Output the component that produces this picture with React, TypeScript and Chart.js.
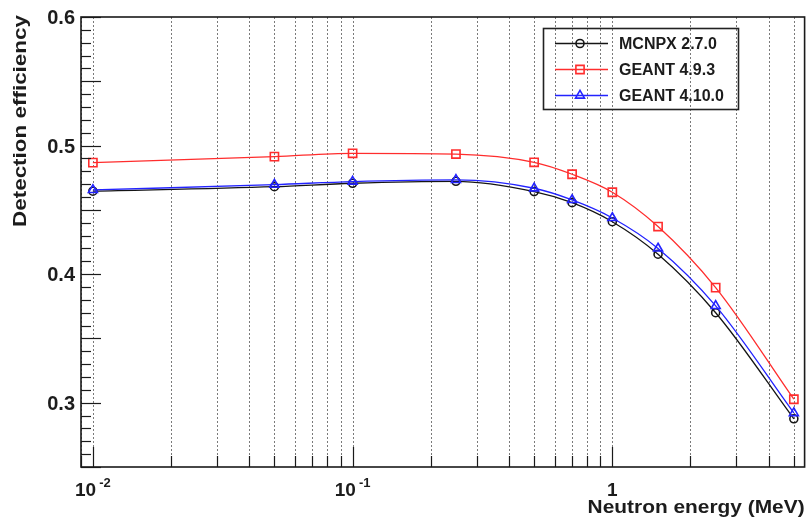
import React, { useEffect, useRef } from "react";
import { Chart, registerables } from "chart.js";

Chart.register(...registerables);

// Neutron energies (MeV) at which the efficiency was evaluated
const energies = [0.01, 0.05, 0.1, 0.25, 0.5, 0.7, 1, 1.5, 2.5, 5];

// Detection efficiency per code
const mcnpx270 = [0.4645, 0.468, 0.4707, 0.4722, 0.4642, 0.4556, 0.4408, 0.4155, 0.37, 0.2875];
const geant493 = [0.4867, 0.4914, 0.494, 0.4934, 0.487, 0.4777, 0.4637, 0.437, 0.3895, 0.3027];
const geant4100 = [0.4655, 0.4696, 0.472, 0.4733, 0.4668, 0.4577, 0.4437, 0.42, 0.3753, 0.292];

const seriesNames = ["MCNPX 2.7.0", "GEANT 4.9.3", "GEANT 4.10.0"];
const seriesColors = ["#151515", "rgb(255,45,45)", "rgb(35,35,255)"];
const seriesMarkers = ["circle", "rect", "triangle"];

// Axis labelling
const yLabelValues = [0.3, 0.4, 0.5, 0.6];
const yLabelTexts = ["0.3", "0.4", "0.5", "0.6"];
const xLabelValues = [0.01, 0.1, 1];
const xLabelBases = ["10", "10", "1"];
const xLabelExponents = ["-2", "-1", ""];
const xTitle = "Neutron energy (MeV)";
const yTitle = "Detection efficiency";

const X_MIN = 0.009;
const X_MAX = 5.5;
const Y_MIN = 0.25;
const Y_MAX = 0.6;

const FONT = "'Liberation Sans', Arial, Helvetica, sans-serif";
const TEXT = "#1c1c1c";

function markerPath(ctx: CanvasRenderingContext2D, style: string, x: number, y: number, r: number) {
  ctx.beginPath();
  if (style === "circle") {
    ctx.arc(x, y, r, 0, Math.PI * 2);
  } else if (style === "rect") {
    const s = r * Math.SQRT1_2;
    ctx.rect(x - s, y - s, 2 * s, 2 * s);
  } else {
    let rad = 0;
    ctx.moveTo(x + Math.sin(rad) * r, y - Math.cos(rad) * r);
    rad += (Math.PI * 2) / 3;
    ctx.lineTo(x + Math.sin(rad) * r, y - Math.cos(rad) * r);
    rad += (Math.PI * 2) / 3;
    ctx.lineTo(x + Math.sin(rad) * r, y - Math.cos(rad) * r);
    ctx.closePath();
  }
}

const markerRadius: Record<string, number> = { circle: 4, rect: 5.8, triangle: 5.2 };

function logGridValues(min: number, max: number) {
  const out: number[] = [];
  for (let e = Math.floor(Math.log10(min)); e <= Math.ceil(Math.log10(max)); e++) {
    for (let m = 1; m <= 9; m++) {
      const v = m * Math.pow(10, e);
      if (v >= min && v <= max) out.push(v);
    }
  }
  return out;
}

const frameAxes = {
  id: "frameAxes",
  beforeDatasetsDraw(chart: any) {
    const { ctx, chartArea: a, scales } = chart;
    const x = scales.x;
    ctx.save();
    ctx.strokeStyle = "#7a7a7a";
    ctx.lineWidth = 1;
    ctx.setLineDash([2, 2]);
    for (const v of logGridValues(X_MIN, X_MAX)) {
      const px = Math.round(x.getPixelForValue(v)) + 0.5;
      ctx.beginPath();
      ctx.moveTo(px, a.top);
      ctx.lineTo(px, a.bottom);
      ctx.stroke();
    }
    ctx.restore();
  },
  afterDatasetsDraw(chart: any) {
    const { ctx, chartArea: a, scales } = chart;
    const x = scales.x;
    const y = scales.y;
    ctx.save();

    // frame
    ctx.strokeStyle = "#1a1a1a";
    ctx.lineWidth = 1.6;
    ctx.strokeRect(a.left, a.top, a.right - a.left, a.bottom - a.top);

    // y ticks, pointing inward
    ctx.lineWidth = 1.2;
    for (let i = Math.round(Y_MIN * 100); i <= Math.round(Y_MAX * 100); i++) {
      const py = Math.round(y.getPixelForValue(i / 100)) + 0.5;
      const len = i % 5 === 0 ? 20 : 10;
      ctx.beginPath();
      ctx.moveTo(a.left, py);
      ctx.lineTo(a.left + len, py);
      ctx.stroke();
    }

    // x ticks, pointing inward
    for (const v of logGridValues(X_MIN, X_MAX)) {
      const px = Math.round(x.getPixelForValue(v)) + 0.5;
      const isDecade = Math.abs(Math.log10(v) - Math.round(Math.log10(v))) < 1e-9;
      const len = isDecade ? 20 : 11;
      ctx.beginPath();
      ctx.moveTo(px, a.bottom);
      ctx.lineTo(px, a.bottom - len);
      ctx.stroke();
    }

    // y labels
    ctx.fillStyle = TEXT;
    ctx.font = `bold 20px ${FONT}`;
    ctx.textAlign = "right";
    ctx.textBaseline = "alphabetic";
    yLabelValues.forEach((v, i) => {
      const py = y.getPixelForValue(v);
      ctx.fillText(yLabelTexts[i], a.left - 6, py + 7);
    });

    // x labels with exponents
    const baseFont = `bold 19px ${FONT}`;
    const expFont = `bold 13px ${FONT}`;
    xLabelValues.forEach((v, i) => {
      const px = x.getPixelForValue(v);
      ctx.font = baseFont;
      const wb = ctx.measureText(xLabelBases[i]).width;
      ctx.font = expFont;
      const we = xLabelExponents[i] ? ctx.measureText(xLabelExponents[i]).width + 3 : 0;
      const left = px - (wb + we) / 2;
      ctx.textAlign = "left";
      ctx.font = baseFont;
      ctx.fillText(xLabelBases[i], left, 496);
      if (xLabelExponents[i]) {
        ctx.font = expFont;
        ctx.fillText(xLabelExponents[i], left + wb + 3, 487);
      }
    });

    // axis titles, stretched to the drawn length
    ctx.font = `bold 18px ${FONT}`;
    const wx = ctx.measureText(xTitle).width;
    ctx.save();
    ctx.translate(a.right, 513);
    ctx.scale(217 / wx, 1);
    ctx.textAlign = "right";
    ctx.fillText(xTitle, 0, 0);
    ctx.restore();

    const wy = ctx.measureText(yTitle).width;
    ctx.save();
    ctx.translate(26, 15);
    ctx.rotate(-Math.PI / 2);
    ctx.scale(212 / wy, 1);
    ctx.textAlign = "right";
    ctx.fillText(yTitle, 0, 0);
    ctx.restore();

    // legend
    const box = { l: 543.5, t: 28.5, r: 738.5, b: 109.5 };
    ctx.strokeStyle = "#222";
    ctx.lineWidth = 1.6;
    ctx.strokeRect(box.l, box.t, box.r - box.l, box.b - box.t);
    const rows = [43, 69, 95];
    ctx.font = `bold 16px ${FONT}`;
    ctx.textAlign = "left";
    seriesNames.forEach((name, i) => {
      const ry = rows[i];
      ctx.strokeStyle = seriesColors[i];
      ctx.lineWidth = 1.3;
      ctx.beginPath();
      ctx.moveTo(555, ry + 0.5);
      ctx.lineTo(608, ry + 0.5);
      ctx.stroke();
      ctx.lineWidth = 1.6;
      markerPath(ctx, seriesMarkers[i], 580, ry + 0.5, markerRadius[seriesMarkers[i]]);
      ctx.stroke();
      ctx.fillStyle = TEXT;
      ctx.fillText(name, 619, ry + 6);
    });

    ctx.restore();
  },
};

const seriesValues = [mcnpx270, geant493, geant4100];

export default function App() {
  const canvasRef = useRef<HTMLCanvasElement | null>(null);

  useEffect(() => {
    const canvas = canvasRef.current;
    if (!canvas) return;
    const chart = new Chart(canvas, {
      type: "line",
      data: {
        datasets: seriesNames.map((name, i) => ({
          label: name,
          data: energies.map((e, j) => ({ x: e, y: seriesValues[i][j] })),
          borderColor: seriesColors[i],
          borderWidth: 1.3,
          backgroundColor: "transparent",
          pointStyle: seriesMarkers[i] as any,
          pointRadius: markerRadius[seriesMarkers[i]],
          pointBorderWidth: 1.6,
          pointBorderColor: seriesColors[i],
          pointBackgroundColor: "transparent",
          cubicInterpolationMode: "monotone" as const,
          fill: false,
          order: 3 - i,
        })),
      },
      options: {
        animation: false,
        responsive: false,
        devicePixelRatio: 1,
        layout: { padding: { left: 81, right: 5, top: 17, bottom: 51 } },
        plugins: { legend: { display: false }, tooltip: { enabled: false } },
        scales: {
          x: { type: "logarithmic", min: X_MIN, max: X_MAX, display: false },
          y: { type: "linear", min: Y_MIN, max: Y_MAX, display: false },
        },
      },
      plugins: [frameAxes],
    });
    return () => chart.destroy();
  }, []);

  return (
    <div style={{ position: "fixed", left: 0, top: 0, width: 812, height: 518, background: "#fff" }}>
      <canvas ref={canvasRef} width={812} height={518} />
    </div>
  );
}
